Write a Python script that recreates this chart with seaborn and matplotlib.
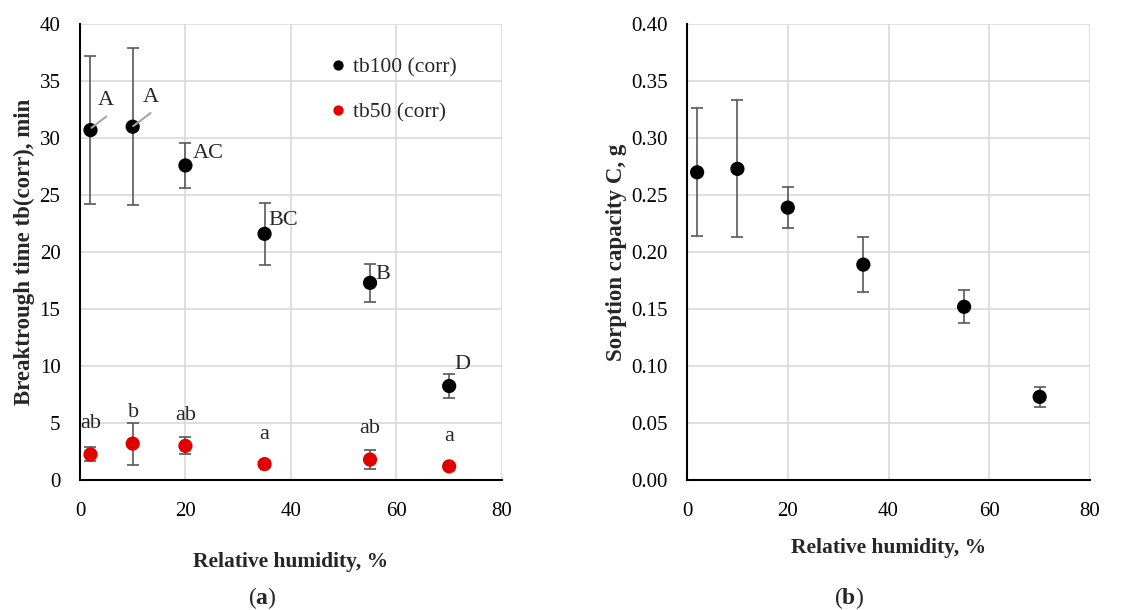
import matplotlib
matplotlib.use("Agg")
import matplotlib.pyplot as plt
import seaborn as sns
import pandas as pd

# data
humidity = [2, 10, 20, 35, 55, 70]
tb100 = [30.7, 31.0, 27.6, 21.6, 17.3, 8.25]
tb100_err = [6.5, 6.9, 2.0, 2.7, 1.65, 1.05]
tb50 = [2.25, 3.2, 3.0, 1.4, 1.8, 1.2]
tb50_err = [0.62, 1.85, 0.75, 0.25, 0.8, 0.2]
tb100_letters = ["A", "A", "AC", "BC", "B", "D"]
tb50_letters = ["ab", "b", "ab", "a", "ab", "a"]
sorption = [0.270, 0.273, 0.239, 0.189, 0.152, 0.073]
sorption_err = [0.056, 0.060, 0.018, 0.024, 0.0145, 0.009]

# where the significance letters sit (data coords)
tb100_lab_xy = [(4.9, 33.3), (13.4, 33.6), (24.3, 28.65), (38.6, 22.75), (57.4, 18.0), (72.5, 10.1)]
tb50_lab_xy = [(2.0, 5.0), (10.1, 5.95), (20.0, 5.7), (35.0, 4.0), (55.0, 4.5), (70.0, 3.8)]

df_a = pd.DataFrame({
    "rh": humidity * 2,
    "tb": tb100 + tb50,
    "series": ["tb100 (corr)"] * 6 + ["tb50 (corr)"] * 6,
})
df_b = pd.DataFrame({"rh": humidity, "C": sorption})

sns.set_theme(style="white")
plt.rcParams["font.family"] = ["Liberation Serif", "DejaVu Serif"]
plt.rcParams["mathtext.fontset"] = "custom"
plt.rcParams["mathtext.rm"] = "Liberation Serif"
plt.rcParams["mathtext.bf"] = "Liberation Serif:bold"

RED = "#e00000"
ERR = "#595959"
GRID = "#d9d9d9"
MS = 105

fig = plt.figure(figsize=(11.42, 6.10), dpi=100)
ax1 = fig.add_axes([0.070, 0.213, 0.3695, 0.7475])
ax2 = fig.add_axes([0.6016, 0.213, 0.3529, 0.7475])

def style_axis(ax):
    ax.grid(True, color=GRID, linewidth=1.2)
    ax.set_axisbelow(True)
    for s in ["top", "right"]:
        ax.spines[s].set_visible(False)
    for s in ["left", "bottom"]:
        ax.spines[s].set_color("black")
        ax.spines[s].set_linewidth(1.5)
        ax.spines[s].set_zorder(5)
    ax.tick_params(axis="both", length=0, labelsize=15, colors="black")
    ax.tick_params(axis="y", pad=14)
    ax.tick_params(axis="x", pad=16)
    ax.set_xlim(0, 80)
    ax.set_xticks([0, 20, 40, 60, 80])

# panel (a)
for y, e in [(tb100, tb100_err), (tb50, tb50_err)]:
    ax1.errorbar(humidity, y, yerr=e, fmt="none", ecolor=ERR,
                 elinewidth=1.2, capsize=4, capthick=1.2, zorder=2)
sns.scatterplot(data=df_a, x="rh", y="tb", hue="series",
                palette={"tb100 (corr)": "black", "tb50 (corr)": RED},
                s=MS, edgecolor="none", ax=ax1, zorder=3)
style_axis(ax1)
ax1.set_ylim(0, 40)
ax1.set_yticks(range(0, 41, 5))
ax1.set_xlabel("Relative humidity, %", fontweight="bold", fontsize=15.5, labelpad=22)
ax1.set_ylabel("Breaktrough time tb(corr), min", fontweight="bold", fontsize=16.5, labelpad=3)

# leader lines for the two "A" labels
ax1.plot([2.2, 5.0], [30.9, 31.9], color="#a6a6a6", lw=1.5, zorder=4)
ax1.plot([10.1, 13.4], [31.05, 32.2], color="#a6a6a6", lw=1.5, zorder=4)
for (x, y), t in zip(tb100_lab_xy + tb50_lab_xy, tb100_letters + tb50_letters):
    ax1.text(x, y, t, ha="center", va="center", fontsize=16)

ax1.legend(loc="upper left", bbox_to_anchor=(0.556, 0.946), frameon=False,
           fontsize=15.5, markerscale=0.72, handletextpad=0.0, handlelength=1.4,
           labelspacing=1.15, borderaxespad=0)

# panel (b)
ax2.errorbar(humidity, sorption, yerr=sorption_err, fmt="none", ecolor=ERR,
             elinewidth=1.2, capsize=4, capthick=1.2, zorder=2)
sns.scatterplot(data=df_b, x="rh", y="C", color="black", s=MS,
                edgecolor="none", ax=ax2, zorder=3)
style_axis(ax2)
ax2.set_ylim(0, 0.40)
ax2.set_yticks([i * 0.05 for i in range(9)])
ax2.set_yticklabels([f"{i * 0.05:.2f}" for i in range(9)])
ax2.set_xlabel("Relative humidity, %", fontweight="bold", fontsize=15.5, labelpad=12)
ax2.set_ylabel("Sorption capacity C, g", fontweight="bold", fontsize=16.5, labelpad=3)

fig.text(0.2295, -0.002, r"($\mathbf{a}$)", ha="center", va="bottom", fontsize=17)
fig.text(0.7435, -0.002, r"($\mathbf{b}$)", ha="center", va="bottom", fontsize=17)

fig.savefig("out.png", dpi=100)
